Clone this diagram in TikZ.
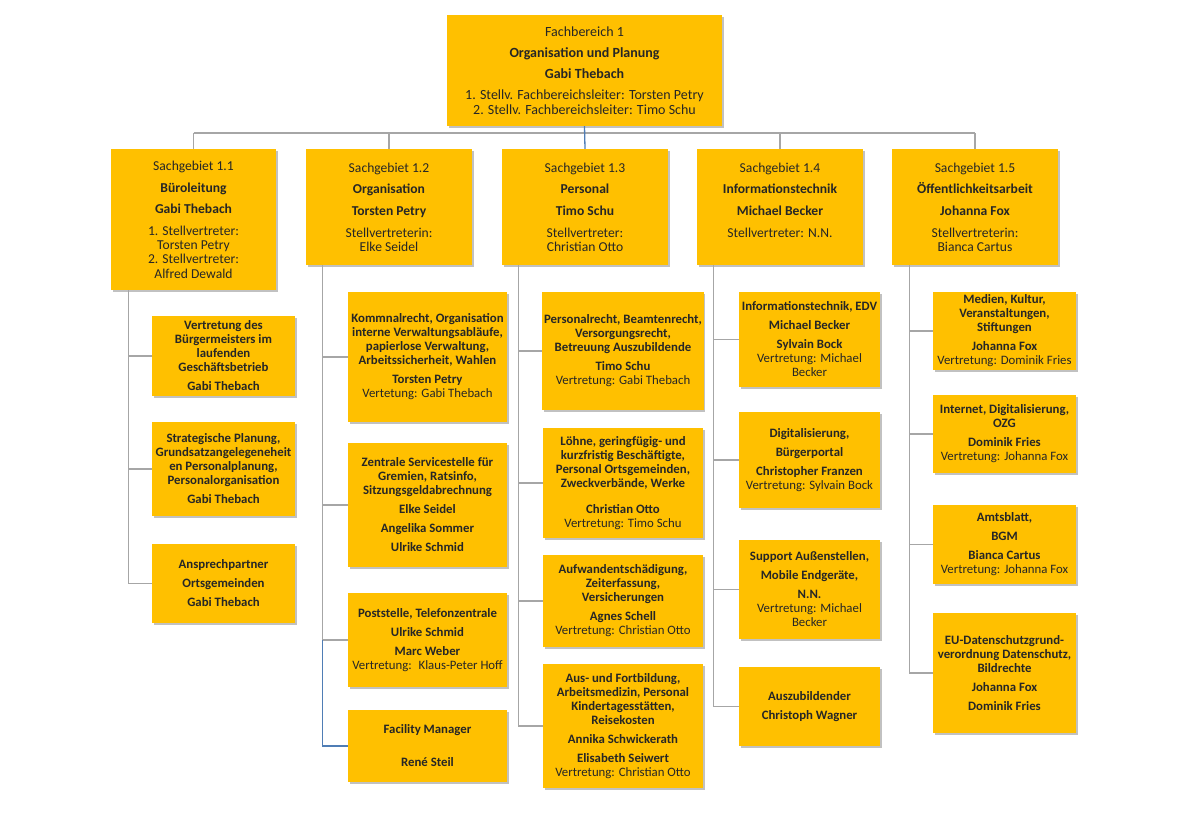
\documentclass[tikz,border=0pt]{standalone}
\usepackage{fontspec}
\setmainfont{Carlito}
\usetikzlibrary{shadows}
\definecolor{gold}{HTML}{FFC000}
\definecolor{linegray}{HTML}{A6A6A6}
\definecolor{lineblue}{HTML}{4F7DB5}
\tikzset{
  box/.style={fill=gold, align=center, inner sep=2pt, text=black!85,
    drop shadow={shadow xshift=1.5pt, shadow yshift=-2pt, opacity=.35, fill=black!70},
    font=\fontsize{13.6}{14.2}\selectfont},
  sgbox/.style={box, minimum width=166, minimum height=116},
  taskbox/.style={box, font=\fontsize{12.8}{14}\selectfont\bfseries},
  conn/.style={draw=linegray, line width=1.3pt},
  connblue/.style={draw=lineblue, line width=1.3pt}
}
\begin{document}
\begin{tikzpicture}[x=1pt, y=-1pt]
      \useasboundingbox (0,0) rectangle (1180,835);
      % Fachbereich
      \node [box, minimum width=275, minimum height=111, font=\fontsize{14}{15}\selectfont] (fb) at (584.5,70.5)
        {Fachbereich 1\\[6pt]\textbf{Organisation und Planung}\\[6pt]\textbf{Gabi Thebach}\\[6pt]1. Stellv. Fachbereichsleiter: Torsten Petry\\2. Stellv. Fachbereichsleiter: Timo Schu};
      % Sachgebiete
      \node [sgbox, minimum width=165, minimum height=141] (sg11) at (193.5,219.5)
        {Sachgebiet 1.1\\[7.5pt]\textbf{Büroleitung}\\[7.5pt]\textbf{Gabi Thebach}\\[7.5pt]1. Stellvertreter:\\Torsten Petry\\2. Stellvertreter:\\Alfred Dewald};
      \node [sgbox] (sg12) at (389,207)
        {Sachgebiet 1.2\\[7.5pt]\textbf{Organisation}\\[7.5pt]\textbf{Torsten Petry}\\[7.5pt]Stellvertreterin:\\Elke Seidel};
      \node [sgbox] (sg13) at (585,207)
        {Sachgebiet 1.3\\[7.5pt]\textbf{Personal}\\[7.5pt]\textbf{Timo Schu}\\[7.5pt]Stellvertreter:\\Christian Otto};
      \node [sgbox] (sg14) at (780,207)
        {Sachgebiet 1.4\\[7.5pt]\textbf{Informationstechnik}\\[7.5pt]\textbf{Michael Becker}\\[7.5pt]Stellvertreter: N.N.\\\mbox{}};
      \node [sgbox] (sg15) at (975,207)
        {Sachgebiet 1.5\\[7.5pt]\textbf{Öffentlichkeitsarbeit}\\[7.5pt]\textbf{Johanna Fox}\\[7.5pt]Stellvertreterin:\\Bianca Cartus};
      % Sachgebiet 1.1
      \node [taskbox, minimum width=143, minimum height=80] (a1) at (223.5,356)
        {Vertretung des\\Bürgermeisters im\\laufenden\\Geschäftsbetrieb\\[5pt]Gabi Thebach};
      \node [taskbox, minimum width=143, minimum height=94] (a2) at (223.5,469)
        {Strategische Planung,\\Grundsatzangelegeneheit\\en Personalplanung,\\Personalorganisation\\[5pt]Gabi Thebach};
      \node [taskbox, minimum width=143, minimum height=79] (a3) at (223.5,583.5)
        {Ansprechpartner\\[5pt]Ortsgemeinden\\[5pt]Gabi Thebach};
      % Sachgebiet 1.2
      \node [taskbox, minimum width=159, minimum height=130] (b1) at (427.5,357)
        {Kommnalrecht, Organisation\\interne Verwaltungsabläufe,\\papierlose Verwaltung,\\Arbeitssicherheit, Wahlen\\[5pt]Torsten Petry\\\textmd{Vertetung: Gabi Thebach}};
      \node [taskbox, minimum width=159, minimum height=124] (b2) at (427.5,505)
        {Zentrale Servicestelle für\\Gremien, Ratsinfo,\\Sitzungsgeldabrechnung\\[5pt]Elke Seidel\\[5pt]Angelika Sommer\\[5pt]Ulrike Schmid};
      \node [taskbox, minimum width=159, minimum height=94] (b3) at (427.5,640)
        {Poststelle, Telefonzentrale\\[5pt]Ulrike Schmid\\[5pt]Marc Weber\\\textmd{Vertretung:~ Klaus-Peter Hoff}};
      \node [taskbox, minimum width=159, minimum height=72] (b4) at (427.5,746)
        {Facility Manager\\[19pt]René Steil};
      % Sachgebiet 1.3
      \node [taskbox, minimum width=160, minimum height=118] (c1) at (623,351)
        {Personalrecht, Beamtenrecht,\\Versorgungsrecht,\\Betreuung Auszubildende\\[5pt]Timo Schu\\\textmd{Vertretung: Gabi Thebach}};
      \node [taskbox, minimum width=160, minimum height=110] (c2) at (623,483)
        {Löhne, geringfügig- und\\kurzfristig Beschäftigte,\\Personal Ortsgemeinden,\\Zweckverbände, Werke\\[12pt]Christian Otto\\\textmd{Vertretung: Timo Schu}};
      \node [taskbox, minimum width=160, minimum height=92] (c3) at (623,601)
        {Aufwandentschädigung,\\Zeiterfassung,\\Versicherungen\\[5pt]Agnes Schell\\\textmd{Vertretung: Christian Otto}};
      \node [taskbox, minimum width=160, minimum height=124] (c4) at (623,726)
        {Aus- und Fortbildung,\\Arbeitsmedizin, Personal\\Kindertagesstätten,\\Reisekosten\\[5pt]Annika Schwickerath\\[5pt]Elisabeth Seiwert\\\textmd{Vertretung: Christian Otto}};
      % Sachgebiet 1.4
      \node [taskbox, minimum width=141, minimum height=95] (d1) at (809.5,339.5)
        {Informationstechnik, EDV\\[5pt]Michael Becker\\[5pt]Sylvain Bock\\\textmd{Vertretung: Michael}\\\textmd{Becker}};
      \node [taskbox, minimum width=141, minimum height=96] (d2) at (809.5,460)
        {Digitalisierung,\\[5pt]Bürgerportal\\[5pt]Christopher Franzen\\\textmd{Vertretung: Sylvain Bock}};
      \node [taskbox, minimum width=141, minimum height=99] (d3) at (809.5,589.5)
        {Support Außenstellen,\\[5pt]Mobile Endgeräte,\\[5pt]N.N.\\\textmd{Vertretung: Michael}\\\textmd{Becker}};
      \node [taskbox, minimum width=141, minimum height=79] (d4) at (809.5,706.5)
        {Auszubildender\\[5pt]Christoph Wagner};
      % Sachgebiet 1.5
      \node [taskbox, minimum width=143, minimum height=78] (e1) at (1004.5,331)
        {Medien, Kultur,\\Veranstaltungen,\\Stiftungen\\[5pt]Johanna Fox\\\textmd{Vertretung: Dominik Fries}};
      \node [taskbox, minimum width=143, minimum height=78] (e2) at (1004.5,434)
        {Internet, Digitalisierung,\\OZG\\[5pt]Dominik Fries\\\textmd{Vertretung: Johanna Fox}};
      \node [taskbox, minimum width=143, minimum height=79] (e3) at (1004.5,544.5)
        {Amtsblatt,\\[5pt]BGM\\[5pt]Bianca Cartus\\\textmd{Vertretung: Johanna Fox}};
      \node [taskbox, minimum width=143, minimum height=120] (e4) at (1004.5,673)
        {EU-Datenschutzgrund-\\verordnung Datenschutz,\\Bildrechte\\[5pt]Johanna Fox\\[5pt]Dominik Fries};
      % Verbindungen oben
      \coordinate (bus) at (0,133);
      \draw [conn] (sg11.north |- bus) -- (sg15.north |- bus);
      \foreach \s in {sg11,sg12,sg14,sg15}
        \draw [conn] (\s.north |- bus) -- (\s.north);
      \draw [connblue] (fb.south) -- (sg13.north);
      % Verbindungen zu den Aufgaben
      \coordinate (t11) at ([xshift=17.5pt]sg11.south west);
      \coordinate (t12) at ([xshift=17pt]sg12.south west);
      \coordinate (t13) at ([xshift=17pt]sg13.south west);
      \coordinate (t14) at ([xshift=17pt]sg14.south west);
      \coordinate (t15) at ([xshift=18pt]sg15.south west);
      \draw [conn] (t11) |- (a3.west);
      \foreach \n in {a1,a2}
        \draw [conn] (t11 |- \n.west) -- (\n.west);
      \draw [conn] (t12) |- (b3.west);
      \foreach \n in {b1,b2}
        \draw [conn] (t12 |- \n.west) -- (\n.west);
      \draw [connblue] (t12 |- b3.west) |- (b4.west);
      \draw [conn] (t13) |- (c4.west);
      \foreach \n in {c1,c2,c3}
        \draw [conn] (t13 |- \n.west) -- (\n.west);
      \draw [conn] (t14) |- (d4.west);
      \foreach \n in {d1,d2,d3}
        \draw [conn] (t14 |- \n.west) -- (\n.west);
      \draw [conn] (t15) |- (e4.west);
      \foreach \n in {e1,e2,e3}
        \draw [conn] (t15 |- \n.west) -- (\n.west);
    \end{tikzpicture}
\end{document}
